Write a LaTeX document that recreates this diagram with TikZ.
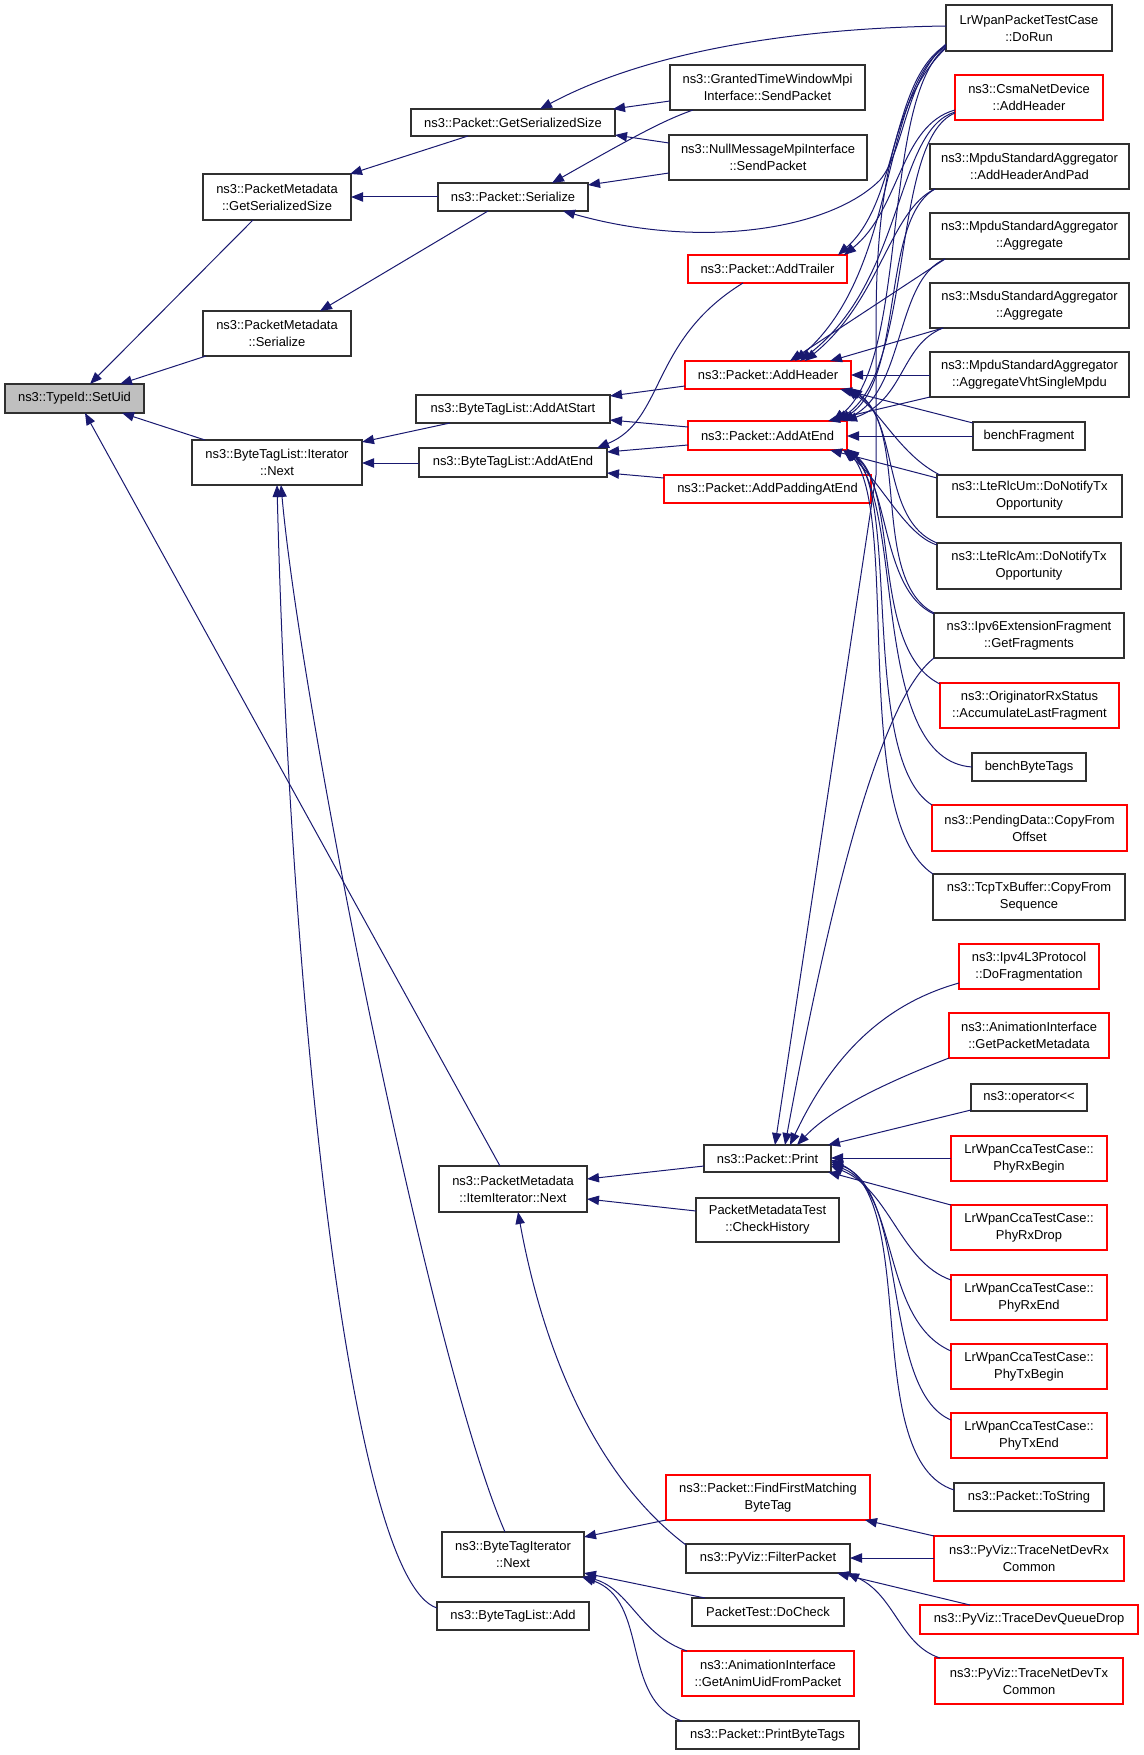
\documentclass[tikz,border=0pt]{standalone}
\usepackage{fontspec}
\setmainfont{Liberation Sans}
\usetikzlibrary{arrows.meta,calc}
\definecolor{edgec}{HTML}{191970}
\definecolor{boxgray}{HTML}{BFBFBF}
\definecolor{boxred}{HTML}{FF0000}
\definecolor{boxblack}{HTML}{303030}
\newcommand{\mkbox}[7]{\node[#2, minimum width={(#5-#3)*0.75pt}, minimum height={(#6-#4)*0.75pt}] (#1) at ({(#3+#5)/2},{(#4+#6)/2}) {#7};}
\begin{document}
\begin{tikzpicture}[x=0.75pt,y=-0.75pt,
  basebox/.style={draw, line width=0.8pt, inner sep=0pt, outer sep=0pt, align=center, fill=white,
    font=\fontsize{9.7}{12.6}\selectfont},
  bbox/.style={basebox, draw=boxblack},
  rbox/.style={basebox, draw=boxred},
  gbox/.style={basebox, draw=boxblack, fill=boxgray},
  e/.style={draw=edgec, line width=0.75pt, -{Triangle[length=9pt,width=7pt]}}]
\useasboundingbox (0,0) rectangle (1144,1755);
% ---------------- nodes ----------------
\mkbox{uid}{gbox}{5}{384}{144}{413}{ns3::TypeId::SetUid}
\mkbox{pmgss}{bbox}{203}{174}{351}{220}{ns3::PacketMetadata\\::GetSerializedSize}
\mkbox{pmser}{bbox}{203}{311}{351}{356}{ns3::PacketMetadata\\::Serialize}
\mkbox{btlin}{bbox}{192}{440}{362}{485}{ns3::ByteTagList::Iterator\\::Next}
\mkbox{pgss}{bbox}{411}{109}{615}{136}{ns3::Packet::GetSerializedSize}
\mkbox{pser}{bbox}{438}{183}{588}{211}{ns3::Packet::Serialize}
\mkbox{gtw}{bbox}{670}{65}{865}{110}{ns3::GrantedTimeWindowMpi\\Interface::SendPacket}
\mkbox{nmm}{bbox}{669}{135}{867}{180}{ns3::NullMessageMpiInterface\\::SendPacket}
\mkbox{dorun}{bbox}{946}{5}{1112}{51}{LrWpanPacketTestCase\\::DoRun}
\mkbox{csma}{rbox}{955}{75}{1103}{120}{ns3::CsmaNetDevice\\::AddHeader}
\mkbox{mahp}{bbox}{930}{144}{1129}{189}{ns3::MpduStandardAggregator\\::AddHeaderAndPad}
\mkbox{magg}{bbox}{930}{213}{1129}{259}{ns3::MpduStandardAggregator\\::Aggregate}
\mkbox{sagg}{bbox}{930}{283}{1129}{328}{ns3::MsduStandardAggregator\\::Aggregate}
\mkbox{mvht}{bbox}{930}{352}{1129}{397}{ns3::MpduStandardAggregator\\::AggregateVhtSingleMpdu}
\mkbox{bfrag}{bbox}{973}{422}{1085}{450}{benchFragment}
\mkbox{rlcum}{bbox}{937}{475}{1122}{517}{ns3::LteRlcUm::DoNotifyTx\\Opportunity}
\mkbox{rlcam}{bbox}{937}{543}{1121}{589}{ns3::LteRlcAm::DoNotifyTx\\Opportunity}
\mkbox{ipv6}{bbox}{934}{613}{1124}{658}{ns3::Ipv6ExtensionFragment\\::GetFragments}
\mkbox{orig}{rbox}{940}{683}{1119}{728}{ns3::OriginatorRxStatus\\::AccumulateLastFragment}
\mkbox{bbt}{bbox}{972}{753}{1086}{781}{benchByteTags}
\mkbox{pend}{rbox}{932}{805}{1127}{851}{ns3::PendingData::CopyFrom\\Offset}
\mkbox{tcp}{bbox}{933}{874}{1125}{920}{ns3::TcpTxBuffer::CopyFrom\\Sequence}
\mkbox{ipv4}{rbox}{959}{944}{1099}{989}{ns3::Ipv4L3Protocol\\::DoFragmentation}
\mkbox{agpm}{rbox}{949}{1013}{1109}{1058}{ns3::AnimationInterface\\::GetPacketMetadata}
\mkbox{oper}{bbox}{971}{1084}{1087}{1111}{ns3::operator<{}<}
\mkbox{prxb}{rbox}{951}{1136}{1107}{1181}{LrWpanCcaTestCase::\\PhyRxBegin}
\mkbox{prxd}{rbox}{951}{1205}{1107}{1250}{LrWpanCcaTestCase::\\PhyRxDrop}
\mkbox{prxe}{rbox}{951}{1275}{1107}{1320}{LrWpanCcaTestCase::\\PhyRxEnd}
\mkbox{ptxb}{rbox}{951}{1344}{1107}{1389}{LrWpanCcaTestCase::\\PhyTxBegin}
\mkbox{ptxe}{rbox}{951}{1413}{1107}{1458}{LrWpanCcaTestCase::\\PhyTxEnd}
\mkbox{tostr}{bbox}{954}{1483}{1104}{1511}{ns3::Packet::ToString}
\mkbox{tndrx}{rbox}{934}{1536}{1124}{1581}{ns3::PyViz::TraceNetDevRx\\Common}
\mkbox{tdqd}{rbox}{920}{1605}{1138}{1634}{ns3::PyViz::TraceDevQueueDrop}
\mkbox{tndtx}{rbox}{935}{1658}{1123}{1704}{ns3::PyViz::TraceNetDevTx\\Common}
\mkbox{atr}{rbox}{688}{255}{847}{283}{ns3::Packet::AddTrailer}
\mkbox{ahd}{rbox}{685}{361}{851}{389}{ns3::Packet::AddHeader}
\mkbox{aae}{rbox}{688}{421}{847}{450}{ns3::Packet::AddAtEnd}
\mkbox{apad}{rbox}{664}{475}{871}{503}{ns3::Packet::AddPaddingAtEnd}
\mkbox{btlas}{bbox}{416}{395}{610}{423}{ns3::ByteTagList::AddAtStart}
\mkbox{btlae}{bbox}{419}{448}{607}{477}{ns3::ByteTagList::AddAtEnd}
\mkbox{print}{bbox}{704}{1145}{831}{1172}{ns3::Packet::Print}
\mkbox{iin}{bbox}{439}{1166}{587}{1212}{ns3::PacketMetadata\\::ItemIterator::Next}
\mkbox{chk}{bbox}{696}{1198}{839}{1242}{PacketMetadataTest\\::CheckHistory}
\mkbox{ffm}{rbox}{666}{1475}{870}{1520}{ns3::Packet::FindFirstMatching\\ByteTag}
\mkbox{filt}{bbox}{686}{1544}{850}{1573}{ns3::PyViz::FilterPacket}
\mkbox{btin}{bbox}{442}{1532}{584}{1577}{ns3::ByteTagIterator\\::Next}
\mkbox{btladd}{bbox}{437}{1602}{589}{1630}{ns3::ByteTagList::Add}
\mkbox{dochk}{bbox}{692}{1598}{844}{1626}{PacketTest::DoCheck}
\mkbox{agau}{rbox}{682}{1651}{854}{1696}{ns3::AnimationInterface\\::GetAnimUidFromPacket}
\mkbox{pbt}{bbox}{676}{1721}{859}{1749}{ns3::Packet::PrintByteTags}
% ---------------- edges (arrow at callee) ----------------
\draw[e] ($(pmgss.north west)+(50,46)$) -- ($(uid.north west)+(85,0)$);
\draw[e] ($(pmser.north west)+(3,45)$) -- ($(uid.north west)+(115,0)$);
\draw[e] ($(btlin.north west)+(13,0)$) -- ($(uid.north west)+(117,29)$);
\draw[e] ($(iin.north west)+(61,0)$) -- ($(uid.north west)+(80,29)$);
\draw[e] ($(pgss.north west)+(57,27)$) -- ($(pmgss.north west)+(147,0)$);
\draw[e] ($(pser.north west)+(0,14)$) -- ($(pmgss.north west)+(148,23)$);
\draw[e] ($(pser.north west)+(50,28)$) -- ($(pmser.north west)+(117,0)$);
\draw[e] ($(gtw.north west)+(0,36)$) -- ($(pgss.north west)+(202,0)$);
\draw[e] ($(nmm.north west)+(0,8)$) -- ($(pgss.north west)+(204,26)$);
\draw[e] ($(gtw.north west)+(23,45)$) .. controls (665,120) and (640,133) .. ($(pser.north west)+(114,0)$);
\draw[e] ($(nmm.north west)+(0,38)$) -- ($(pser.north west)+(150,2)$);
\draw[e] ($(dorun.north west)+(0,21)$) .. controls (800,28) and (650,50) .. ($(pgss.north west)+(129,0)$);
\draw[e] ($(dorun.north west)+(0,39)$) .. controls (905,80) and (905,150) .. (880,180) .. controls (830,230) and (700,250) .. ($(pser.north west)+(125,28)$);
% into AddTrailer
\draw[e] ($(dorun.north west)+(0,40)$) .. controls (890,80) and (900,200) .. ($(atr.north west)+(150,0)$);
\draw[e] ($(csma.north west)+(0,35)$) .. controls (900,125) and (900,210) .. ($(atr.north west)+(156,0)$);
% into AddHeader
\draw[e] ($(dorun.north west)+(0,41)$) .. controls (880,90) and (900,270) .. ($(ahd.north west)+(110,0)$);
\draw[e] ($(csma.north west)+(0,37)$) .. controls (895,130) and (905,280) .. ($(ahd.north west)+(115,0)$);
\draw[e] ($(mahp.north west)+(5,45)$) .. controls (890,210) and (880,300) .. ($(ahd.north west)+(120,0)$);
\draw[e] ($(magg.north west)+(15,46)$) -- ($(ahd.north west)+(105,0)$);
\draw[e] ($(sagg.north west)+(13,45)$) -- ($(ahd.north west)+(145,0)$);
\draw[e] ($(mvht.north west)+(0,23)$) -- ($(ahd.north west)+(166,14)$);
\draw[e] ($(bfrag.north west)+(0,1)$) -- ($(ahd.north west)+(155,28)$);
\draw[e] ($(rlcum.north west)+(3,0)$) .. controls (900,455) and (880,410) .. ($(ahd.north west)+(161,28)$);
\draw[e] ($(rlcam.north west)+(0,0)$) .. controls (880,520) and (900,420) .. ($(ahd.north west)+(163,28)$);
\draw[e] ($(ipv6.north west)+(0,0)$) .. controls (870,580) and (910,430) .. ($(ahd.north west)+(165,27)$);
% into AddAtEnd
\draw[e] ($(dorun.north west)+(0,42)$) .. controls (880,100) and (910,360) .. ($(aae.north west)+(145,0)$);
\draw[e] ($(csma.north west)+(0,38)$) .. controls (890,140) and (915,370) .. ($(aae.north west)+(148,0)$);
\draw[e] ($(mahp.north west)+(5,45)$) .. controls (880,220) and (905,380) .. ($(aae.north west)+(151,0)$);
\draw[e] ($(magg.north west)+(15,46)$) .. controls (895,280) and (905,390) .. ($(aae.north west)+(154,0)$);
\draw[e] ($(sagg.north west)+(13,45)$) .. controls (900,345) and (905,400) .. ($(aae.north west)+(157,0)$);
\draw[e] ($(mvht.north west)+(0,45)$) -- ($(aae.north west)+(140,0)$);
\draw[e] ($(bfrag.north west)+(0,14)$) -- ($(aae.north west)+(159,15)$);
\draw[e] ($(rlcum.north west)+(0,3)$) -- ($(aae.north west)+(142,29)$);
\draw[e] ($(rlcam.north west)+(0,2)$) .. controls (905,535) and (880,480) .. ($(aae.north west)+(155,29)$);
\draw[e] ($(ipv6.north west)+(0,1)$) .. controls (880,590) and (890,480) .. ($(aae.north west)+(157,29)$);
\draw[e] ($(orig.north west)+(0,1)$) .. controls (870,650) and (900,490) .. ($(aae.north west)+(159,28)$);
\draw[e] ($(bbt.north west)+(0,14)$) .. controls (870,760) and (905,510) .. ($(aae.north west)+(159,28)$);
\draw[e] ($(pend.north west)+(0,0)$) .. controls (860,760) and (900,500) .. ($(aae.north west)+(159,28)$);
\draw[e] ($(tcp.north west)+(0,0)$) .. controls (850,820) and (900,520) .. ($(aae.north west)+(159,28)$);
% into Print
\draw[e] ($(dorun.north west)+(0,43)$) .. controls (880,110) and (876,250) .. (876,330) -- (876,475) -- ($(print.north west)+(71,0)$);
\draw[e] ($(ipv6.north west)+(0,45)$) .. controls (880,700) and (830,900) .. ($(print.north west)+(81,0)$);
\draw[e] ($(ipv4.north west)+(0,39)$) .. controls (880,1005) and (830,1060) .. ($(print.north west)+(86,0)$);
\draw[e] ($(agpm.north west)+(0,45)$) .. controls (880,1085) and (830,1110) .. ($(print.north west)+(93,0)$);
\draw[e] ($(oper.north west)+(0,26)$) -- ($(print.north west)+(124,0)$);
\draw[e] ($(prxb.north west)+(0,22)$) -- ($(print.north west)+(127,13)$);
\draw[e] ($(prxd.north west)+(0,0)$) -- ($(print.north west)+(124,27)$);
\draw[e] ($(prxe.north west)+(0,5)$) .. controls (900,1262) and (890,1190) .. ($(print.north west)+(127,21)$);
\draw[e] ($(ptxb.north west)+(0,7)$) .. controls (880,1320) and (900,1190) .. ($(print.north west)+(127,19)$);
\draw[e] ($(ptxe.north west)+(0,7)$) .. controls (880,1390) and (910,1190) .. ($(print.north west)+(127,17)$);
\draw[e] ($(tostr.north west)+(0,7)$) .. controls (860,1460) and (920,1200) .. ($(print.north west)+(127,15)$);
% ItemIterator::Next
\draw[e] ($(print.north west)+(0,21)$) -- ($(iin.north west)+(148,13)$);
\draw[e] ($(chk.north west)+(0,13)$) -- ($(iin.north west)+(148,33)$);
\draw[e] ($(filt.north west)+(0,1)$) .. controls (600,1480) and (545,1360) .. ($(iin.north west)+(79,46)$);
% FilterPacket / FindFirstMatching
\draw[e] ($(tndrx.north west)+(0,22)$) -- ($(filt.north west)+(164,14)$);
\draw[e] ($(tndrx.north west)+(0,0)$) -- ($(ffm.north west)+(199,45)$);
\draw[e] ($(tdqd.north west)+(50,0)$) -- ($(filt.north west)+(151,29)$);
\draw[e] ($(tndtx.north west)+(5,0)$) .. controls (900,1645) and (895,1595) .. ($(filt.north west)+(161,29)$);
% ByteTagIterator::Next
\draw[e] ($(ffm.north west)+(0,45)$) -- ($(btin.north west)+(142,5)$);
\draw[e] ($(dochk.north west)+(13,0)$) -- ($(btin.north west)+(142,41)$);
\draw[e] ($(agau.north west)+(5,0)$) .. controls (640,1635) and (630,1590) .. ($(btin.north west)+(142,44)$);
\draw[e] ($(pbt.north west)+(6,0)$) .. controls (620,1700) and (650,1600) .. ($(btin.north west)+(140,45)$);
% ByteTagList::Iterator::Next
\draw[e] ($(btin.north west)+(63,0)$) .. controls (430,1360) and (300,700) .. ($(btlin.north west)+(89,45)$);
\draw[e] ($(btladd.north west)+(0,6)$) .. controls (350,1580) and (290,1000) .. ($(btlin.north west)+(85,45)$);
\draw[e] ($(btlas.north west)+(34,28)$) -- ($(btlin.north west)+(170,2)$);
\draw[e] ($(btlae.north west)+(0,15)$) -- ($(btlin.north west)+(170,23)$);
% ByteTagList::AddAtStart / AddAtEnd
\draw[e] ($(ahd.north west)+(0,25)$) -- ($(btlas.north west)+(194,1)$);
\draw[e] ($(aae.north west)+(0,6)$) -- ($(btlas.north west)+(194,25)$);
\draw[e] ($(aae.north west)+(0,24)$) -- ($(btlae.north west)+(188,4)$);
\draw[e] ($(apad.north west)+(0,3)$) -- ($(btlae.north west)+(188,25)$);
\draw[e] ($(atr.north west)+(55,28)$) .. controls (650,340) and (665,420) .. ($(btlae.north west)+(178,0)$);
\end{tikzpicture}
\end{document}
